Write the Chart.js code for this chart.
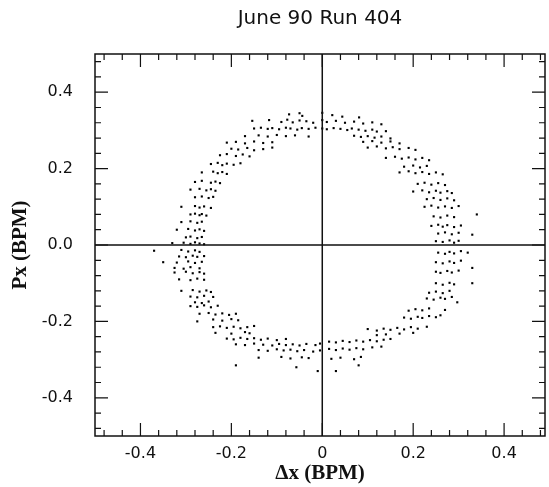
<!DOCTYPE html>
<html>
<head>
<meta charset="utf-8">
<script src="https://cdn.jsdelivr.net/npm/chart.js@4.4.1/dist/chart.umd.min.js"></script>
<style>
  html, body { margin: 0; padding: 0; background: #fff; }
  #wrap { width: 549px; height: 487px; }
</style>
</head>
<body>
<div id="wrap"><canvas id="chart" width="549" height="487"></canvas></div>
<script>
// axis ticks
const xTickValues = [-0.4, -0.2, 0, 0.2, 0.4];
const xTickLabels = ['-0.4', '-0.2', '0', '0.2', '0.4'];
const yTickValues = [-0.4, -0.2, 0, 0.2, 0.4];
const yTickLabels = ['-0.4', '-0.2', '0.0', '0.2', '0.4'];

const topArc = [
    [-0.073, 0.342], [-0.05, 0.345], [-0.044, 0.338], [0.0, 0.346], [0.022, 0.34], [0.044, 0.336], [0.081, 0.334],
    [-0.154, 0.325], [-0.117, 0.327], [-0.09, 0.322], [-0.077, 0.328], [-0.065, 0.321], [-0.05, 0.326], [-0.035, 0.324],
    [-0.02, 0.32], [0.0, 0.327], [0.01, 0.322], [0.03, 0.325], [0.05, 0.32], [0.07, 0.323], [0.09, 0.318], [0.11, 0.321], [0.13, 0.316],
    [-0.15, 0.305], [-0.135, 0.307], [-0.12, 0.304], [-0.11, 0.306], [-0.095, 0.303], [-0.08, 0.307], [-0.07, 0.305],
    [-0.055, 0.302], [-0.045, 0.306], [-0.03, 0.304], [-0.015, 0.307], [0.0, 0.305], [0.01, 0.303], [0.025, 0.306],
    [0.04, 0.304], [0.055, 0.301], [0.065, 0.305], [0.08, 0.302], [0.095, 0.299], [0.11, 0.302], [0.12, 0.297], [0.14, 0.298],
    [-0.17, 0.285], [-0.14, 0.287], [-0.12, 0.284], [-0.1, 0.288], [-0.08, 0.285], [-0.06, 0.287], [-0.03, 0.284],
    [0.07, 0.286], [0.085, 0.283], [0.1, 0.285], [0.115, 0.281], [0.13, 0.284], [0.15, 0.279]
];
const upperLeft = [
    [-0.21, 0.268], [-0.19, 0.27], [-0.17, 0.266], [-0.15, 0.271], [-0.13, 0.267], [-0.11, 0.269],
    [-0.2, 0.252], [-0.185, 0.25], [-0.165, 0.254], [-0.15, 0.248], [-0.13, 0.251], [-0.11, 0.255],
    [-0.225, 0.235], [-0.21, 0.238], [-0.19, 0.233], [-0.175, 0.237], [-0.16, 0.232],
    [-0.245, 0.212], [-0.23, 0.215], [-0.22, 0.209], [-0.21, 0.213], [-0.195, 0.21], [-0.18, 0.214],
    [-0.265, 0.19], [-0.24, 0.192], [-0.23, 0.188], [-0.22, 0.191], [-0.21, 0.186],
    [-0.28, 0.165], [-0.265, 0.168], [-0.245, 0.163], [-0.235, 0.166], [-0.225, 0.162],
    [-0.29, 0.145], [-0.27, 0.147], [-0.255, 0.143], [-0.245, 0.146], [-0.235, 0.142],
    [-0.28, 0.125], [-0.265, 0.127], [-0.25, 0.123], [-0.24, 0.126],
    [-0.31, 0.1], [-0.28, 0.102], [-0.27, 0.098], [-0.26, 0.101], [-0.245, 0.097],
    [-0.29, 0.08], [-0.28, 0.082], [-0.27, 0.078], [-0.265, 0.081], [-0.255, 0.077]
];
const leftSide = [
    [-0.31, 0.06], [-0.29, 0.062], [-0.275, 0.058], [-0.265, 0.061],
    [-0.32, 0.04], [-0.295, 0.042], [-0.28, 0.038], [-0.27, 0.041], [-0.26, 0.037],
    [-0.3, 0.02], [-0.29, 0.022], [-0.275, 0.018], [-0.265, 0.021],
    [-0.33, 0.005], [-0.305, 0.006], [-0.29, 0.003], [-0.28, 0.007], [-0.27, 0.004], [-0.26, 0.002],
    [-0.37, -0.015], [-0.31, -0.013], [-0.295, -0.017], [-0.28, -0.014], [-0.27, -0.018],
    [-0.315, -0.03], [-0.3, -0.032], [-0.285, -0.028], [-0.275, -0.031], [-0.26, -0.029],
    [-0.35, -0.045], [-0.32, -0.046], [-0.295, -0.043], [-0.28, -0.047], [-0.265, -0.044],
    [-0.325, -0.06], [-0.305, -0.062], [-0.29, -0.058], [-0.27, -0.061]
];
const lowerLeft = [
    [-0.325, -0.072], [-0.3, -0.07], [-0.285, -0.074], [-0.27, -0.071], [-0.26, -0.075],
    [-0.315, -0.09], [-0.29, -0.092], [-0.275, -0.088], [-0.26, -0.091],
    [-0.31, -0.12], [-0.285, -0.118], [-0.27, -0.122], [-0.255, -0.119], [-0.245, -0.123],
    [-0.29, -0.135], [-0.275, -0.137], [-0.26, -0.133], [-0.24, -0.136],
    [-0.28, -0.15], [-0.265, -0.152], [-0.25, -0.148],
    [-0.29, -0.16], [-0.275, -0.162], [-0.26, -0.158], [-0.245, -0.163], [-0.23, -0.159],
    [-0.27, -0.18], [-0.25, -0.178], [-0.235, -0.182], [-0.22, -0.179], [-0.205, -0.183], [-0.19, -0.18],
    [-0.275, -0.2], [-0.24, -0.195], [-0.22, -0.198], [-0.2, -0.194], [-0.185, -0.197],
    [-0.24, -0.215], [-0.225, -0.213], [-0.21, -0.217], [-0.195, -0.214], [-0.18, -0.218], [-0.165, -0.215], [-0.15, -0.212],
    [-0.235, -0.23], [-0.2, -0.232], [-0.17, -0.228], [-0.16, -0.231]
];
const bottomArc = [
    [-0.21, -0.245], [-0.195, -0.247], [-0.18, -0.243], [-0.165, -0.246], [-0.15, -0.244], [-0.135, -0.248], [-0.12, -0.245], [-0.1, -0.249], [-0.08, -0.246],
    [-0.19, -0.26], [-0.17, -0.262], [-0.15, -0.258], [-0.13, -0.261], [-0.11, -0.263], [-0.095, -0.259], [-0.08, -0.262],
    [-0.065, -0.26], [-0.05, -0.263], [-0.035, -0.259], [-0.015, -0.262], [-0.005, -0.258],
    [-0.14, -0.275], [-0.12, -0.277], [-0.1, -0.273], [-0.085, -0.276], [-0.07, -0.274], [-0.055, -0.278], [-0.04, -0.275], [-0.02, -0.279], [-0.005, -0.276],
    [-0.14, -0.295], [-0.09, -0.293], [-0.07, -0.297], [-0.045, -0.294], [-0.03, -0.296],
    [-0.19, -0.315], [-0.057, -0.32], [-0.01, -0.33], [0.03, -0.33], [0.08, -0.315],
    [0.015, -0.253], [0.03, -0.255], [0.045, -0.251], [0.06, -0.254], [0.075, -0.25], [0.09, -0.253], [0.105, -0.249], [0.12, -0.252], [0.135, -0.248], [0.15, -0.246],
    [0.015, -0.272], [0.03, -0.275], [0.045, -0.271], [0.06, -0.274], [0.075, -0.27], [0.09, -0.273], [0.11, -0.268], [0.13, -0.266],
    [0.02, -0.298], [0.04, -0.295], [0.07, -0.299], [0.085, -0.293]
];
const lowerRight = [
    [0.1, -0.22], [0.12, -0.224], [0.135, -0.219], [0.15, -0.222], [0.165, -0.217], [0.18, -0.221], [0.195, -0.215], [0.21, -0.219], [0.23, -0.214],
    [0.12, -0.236], [0.14, -0.234], [0.17, -0.232], [0.2, -0.23],
    [0.18, -0.19], [0.195, -0.193], [0.21, -0.188], [0.22, -0.191], [0.235, -0.186], [0.25, -0.189], [0.26, -0.184],
    [0.19, -0.172], [0.205, -0.168], [0.22, -0.171], [0.235, -0.166], [0.27, -0.17],
    [0.23, -0.14], [0.245, -0.143], [0.26, -0.138], [0.27, -0.141], [0.285, -0.136], [0.297, -0.15],
    [0.235, -0.125], [0.25, -0.122], [0.265, -0.126], [0.28, -0.12]
];
const rightSide = [
    [0.25, -0.1], [0.265, -0.104], [0.28, -0.099], [0.29, -0.103], [0.33, -0.1],
    [0.25, -0.07], [0.26, -0.073], [0.275, -0.068], [0.285, -0.072], [0.3, -0.067], [0.33, -0.06],
    [0.25, -0.045], [0.265, -0.048], [0.28, -0.043], [0.29, -0.047], [0.305, -0.041],
    [0.255, -0.02], [0.27, -0.023], [0.28, -0.018], [0.29, -0.022], [0.305, -0.016], [0.32, -0.02],
    [0.25, 0.01], [0.265, 0.008], [0.28, 0.012], [0.29, 0.006], [0.3, 0.011], [0.33, 0.027],
    [0.255, 0.03], [0.27, 0.033], [0.285, 0.028], [0.3, 0.032],
    [0.24, 0.05], [0.255, 0.053], [0.265, 0.048], [0.275, 0.052], [0.29, 0.047], [0.305, 0.051],
    [0.245, 0.075], [0.26, 0.072], [0.275, 0.077], [0.29, 0.073], [0.34, 0.08]
];
const upperRight = [
    [0.225, 0.1], [0.24, 0.103], [0.255, 0.098], [0.27, 0.101], [0.285, 0.097], [0.3, 0.102],
    [0.23, 0.12], [0.245, 0.123], [0.26, 0.118], [0.275, 0.122], [0.29, 0.117],
    [0.2, 0.14], [0.22, 0.143], [0.235, 0.138], [0.25, 0.142], [0.26, 0.137], [0.275, 0.141], [0.285, 0.136],
    [0.21, 0.16], [0.225, 0.163], [0.24, 0.158], [0.255, 0.162], [0.27, 0.157],
    [0.17, 0.19], [0.19, 0.193], [0.205, 0.188], [0.22, 0.191], [0.235, 0.186], [0.25, 0.19], [0.265, 0.185],
    [0.18, 0.205], [0.2, 0.208], [0.215, 0.203], [0.23, 0.207],
    [0.14, 0.228], [0.16, 0.231], [0.175, 0.226], [0.19, 0.229], [0.205, 0.224], [0.22, 0.228], [0.235, 0.222],
    [0.1, 0.255], [0.12, 0.258], [0.14, 0.253], [0.155, 0.256], [0.17, 0.251], [0.19, 0.254], [0.205, 0.249],
    [0.09, 0.27], [0.11, 0.272], [0.13, 0.268], [0.15, 0.271], [0.17, 0.266]
];

const allPoints = [].concat(topArc, upperLeft, leftSide, lowerLeft, bottomArc, lowerRight, rightSide, upperRight)
    .map(p => ({ x: p[0], y: p[1] }));

// frame with inward ticks on all four sides, plus the zero axes
const frameTicks = {
    id: 'frameTicks',
    afterDatasetsDraw(chart) {
        const { ctx, chartArea: a, scales: { x, y } } = chart;
        const major = 13, minor = 6;
        ctx.save();
        ctx.strokeStyle = '#111';
        ctx.lineWidth = 1.5;
        ctx.strokeRect(a.left, a.top, a.right - a.left, a.bottom - a.top);

        ctx.beginPath();
        const x0 = x.getPixelForValue(0), y0 = y.getPixelForValue(0);
        ctx.moveTo(x0, a.top); ctx.lineTo(x0, a.bottom);
        ctx.moveTo(a.left, y0); ctx.lineTo(a.right, y0);
        ctx.stroke();

        ctx.lineWidth = 1.2;
        ctx.beginPath();
        for (let i = -12; i <= 12; i++) {
            const v = i * 0.04;
            const len = (i % 5 === 0) ? major : minor;
            if (v >= x.min && v <= x.max) {
                const px = x.getPixelForValue(v);
                ctx.moveTo(px, a.bottom); ctx.lineTo(px, a.bottom - len);
                ctx.moveTo(px, a.top); ctx.lineTo(px, a.top + len);
            }
            if (v >= y.min && v <= y.max) {
                const py = y.getPixelForValue(v);
                ctx.moveTo(a.left, py); ctx.lineTo(a.left + len, py);
                ctx.moveTo(a.right, py); ctx.lineTo(a.right - len, py);
            }
        }
        ctx.stroke();
        ctx.restore();
    }
};

const tickFont = { family: 'DejaVu Sans', size: 16 };
const axisTitleFont = { family: 'Liberation Serif', size: 21, weight: 'bold' };

new Chart(document.getElementById('chart'), {
    type: 'scatter',
    data: {
        datasets: [{
            data: allPoints,
            pointStyle: 'rect',
            pointRadius: 1.5,
            pointBorderWidth: 0,
            backgroundColor: '#000',
            borderColor: '#000'
        }]
    },
    options: {
        responsive: false,
        animation: false,
        layout: { padding: { left: 0, right: 3, top: 0, bottom: 0 } },
        plugins: {
            legend: { display: false },
            tooltip: { enabled: false },
            title: {
                display: true,
                text: 'June 90 Run 404',
                fullSize: false,
                color: '#111',
                font: { family: 'DejaVu Sans', size: 20, weight: 'normal' },
                padding: { top: 7, bottom: 23 }
            }
        },
        scales: {
            x: {
                type: 'linear',
                min: -0.5,
                max: 0.49,
                grid: { display: false },
                border: { display: false },
                afterBuildTicks: scale => { scale.ticks = xTickValues.map(v => ({ value: v })); },
                afterFit: scale => { scale.height = 51; },
                ticks: {
                    color: '#111',
                    font: tickFont,
                    padding: 0,
                    maxRotation: 0,
                    callback: (val, i) => xTickLabels[i]
                },
                title: {
                    display: true,
                    text: 'Δx (BPM)',
                    color: '#111',
                    font: axisTitleFont,
                    padding: { top: 0, bottom: 1 }
                }
            },
            y: {
                type: 'linear',
                min: -0.5,
                max: 0.5,
                grid: { display: false },
                border: { display: false },
                afterBuildTicks: scale => { scale.ticks = yTickValues.map(v => ({ value: v })); },
                afterFit: scale => { scale.width = 95; },
                ticks: {
                    color: '#111',
                    font: tickFont,
                    padding: 14,
                    callback: (val, i) => yTickLabels[i]
                },
                title: {
                    display: true,
                    text: 'Px (BPM)',
                    color: '#111',
                    font: axisTitleFont,
                    padding: { top: 8, bottom: 0 }
                }
            }
        }
    },
    plugins: [frameTicks]
});
</script>
</body>
</html>
